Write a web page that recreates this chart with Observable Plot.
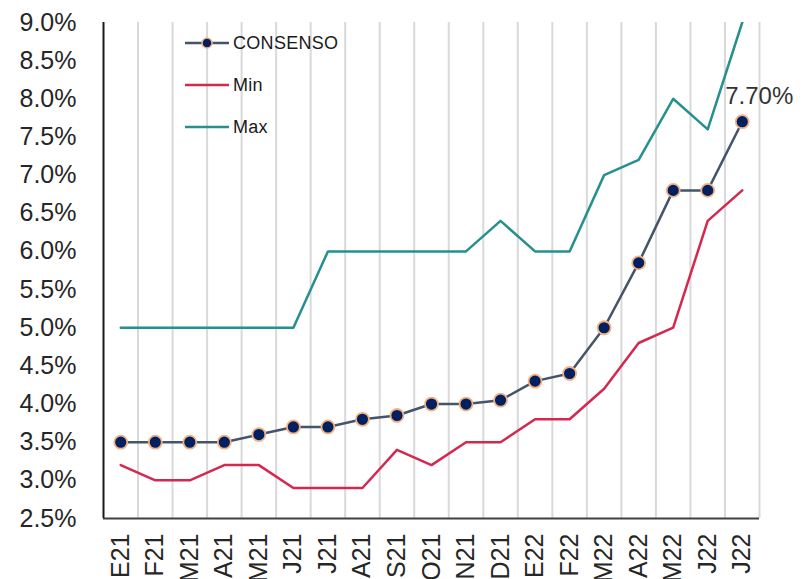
<!DOCTYPE html>
<html><head><meta charset="utf-8">
<script src="https://cdn.jsdelivr.net/npm/d3@7"></script>
<script src="https://cdn.jsdelivr.net/npm/@observablehq/plot@0.6"></script>
<style>
body{margin:0;background:#fff;font-family:"Liberation Sans",Arial,sans-serif;}
#wrap{position:relative;width:810px;height:579px;overflow:hidden;}
#legend{position:absolute;left:185px;top:22px;font-size:18px;color:#1a1a1a;letter-spacing:0.3px;}
#legend .row{display:flex;align-items:center;height:42px;}
#legend svg{margin-right:4px;}
</style></head><body>
<div id="wrap"><div id="legend"></div></div>
<script>
const months = ["E21","F21","M21","A21","M21","J21","J21","A21","S21","O21","N21","D21","E22","F22","M22","A22","M22","J22","J22"];
const consenso = [3.5,3.5,3.5,3.5,3.6,3.7,3.7,3.8,3.85,4.0,4.0,4.05,4.3,4.4,5.0,5.85,6.8,6.8,7.7];
const minV = [3.2,3.0,3.0,3.2,3.2,2.9,2.9,2.9,3.4,3.2,3.5,3.5,3.8,3.8,4.2,4.8,5.0,6.4,6.8];
const maxV = [5.0,5.0,5.0,5.0,5.0,5.0,6.0,6.0,6.0,6.0,6.0,6.4,6.0,6.0,7.0,7.2,8.0,7.6,9.0];
const yTicks = [2.5,3.0,3.5,4.0,4.5,5.0,5.5,6.0,6.5,7.0,7.5,8.0,8.5,9.0];
const lastLabel = "7.70%";

const colors = {consenso:"#44546A", dot:"#002060", dotStroke:"#F4B183", min:"#D42850", max:"#25908E"};

const idx = months.map((_, i) => i);
const rowsC = idx.map(i => ({i, v: consenso[i]}));
const rowsMin = idx.map(i => ({i, v: minV[i]}));
const rowsMax = idx.map(i => ({i, v: maxV[i]}));
const grid = idx.map(i => i + 0.5);

const chart = Plot.plot({
  width: 810, height: 579,
  marginLeft: 103, marginRight: 51, marginTop: 22, marginBottom: 61,
  style: {fontFamily: '"Liberation Sans", Arial, sans-serif', background: "#fff", overflow: "visible"},
  x: {domain: [-0.5, months.length - 0.5], axis: null},
  y: {domain: [2.5, 9.0], axis: null},
  marks: [
    Plot.ruleX(grid, {x: d => d, stroke: "#D9D9D9", strokeWidth: 2}),
    Plot.axisY({ticks: yTicks, label: null, tickSize: 0, tickPadding: 27, tickFormat: d => d.toFixed(1) + "%", fontSize: 25, fill: "#262626", letterSpacing: "2px"}),
    Plot.axisX({ticks: idx, label: null, tickSize: 0, tickRotate: -90, tickPadding: 15, tickFormat: i => months[i], fontSize: 25, fill: "#262626", textAnchor: "end", letterSpacing: "1px"}),
    Plot.ruleY([2.5], {stroke: "#404040", strokeWidth: 2}),
    Plot.ruleX([-0.5], {stroke: "#1a1a1a", strokeWidth: 2}),
    Plot.line(rowsMax, {x: "i", y: "v", stroke: colors.max, strokeWidth: 2.5, clip: true}),
    Plot.line(rowsMin, {x: "i", y: "v", stroke: colors.min, strokeWidth: 2.5}),
    Plot.line(rowsC, {x: "i", y: "v", stroke: colors.consenso, strokeWidth: 2.5}),
    Plot.dot(rowsC, {x: "i", y: "v", r: 6.5, fill: colors.dot, stroke: colors.dotStroke, strokeWidth: 1.8}),
    Plot.text([rowsC[rowsC.length - 1]], {x: "i", y: "v", text: () => lastLabel, textAnchor: "start", dx: -17, dy: -25, fontSize: 24, fill: "#333", letterSpacing: "2px"})
  ]
});
document.getElementById("wrap").prepend(chart);

const legendItems = [
  {label: "CONSENSO", color: colors.consenso, dot: true},
  {label: "Min", color: colors.min},
  {label: "Max", color: colors.max}
];
const leg = document.getElementById("legend");
legendItems.forEach(it => {
  const row = document.createElement("div"); row.className = "row";
  row.innerHTML = `<svg width="44" height="14"><line x1="0" y1="7" x2="44" y2="7" stroke="${it.color}" stroke-width="2.5"/>${it.dot ? `<circle cx="22" cy="7" r="5" fill="${colors.dot}" stroke="${colors.dotStroke}" stroke-width="1.5"/>` : ""}</svg><span>${it.label}</span>`;
  leg.appendChild(row);
});
</script>
</body></html>
